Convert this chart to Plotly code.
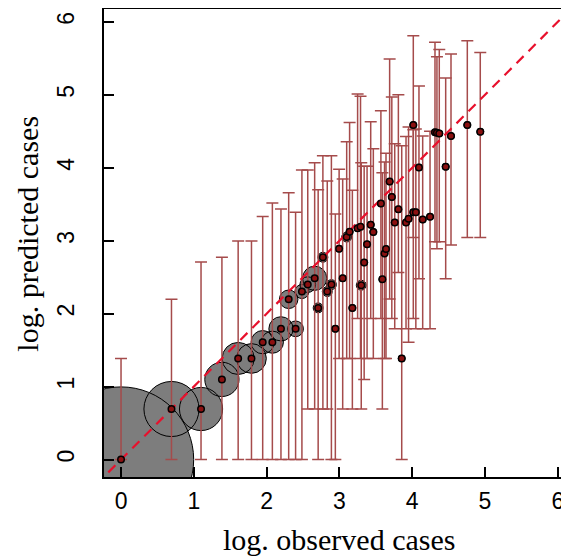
import numpy as np
import plotly.graph_objects as go

# log observed vs log predicted cases, with prediction intervals
obs_x = [0.000, 0.693, 1.099, 1.386, 1.609, 1.792, 1.946, 2.079, 2.197, 2.303,
         2.398, 2.485, 2.565, 2.660, 2.708, 2.773, 2.833, 2.890, 2.944, 2.996,
         3.045, 3.100, 3.140, 3.178, 3.250, 3.290, 3.300, 3.340, 3.380, 3.430,
         3.466, 3.570, 3.590, 3.620, 3.640, 3.690, 3.720, 3.760, 3.810, 3.856,
         3.915, 3.950, 4.015, 4.050, 4.015, 4.093, 4.144, 4.245, 4.313, 4.340,
         4.372, 4.460, 4.533, 4.757, 4.935]
pred_y = [0.000, 0.693, 0.693, 1.099, 1.386, 1.386, 1.609, 1.609, 1.792, 2.197,
          1.792, 2.303, 2.398, 2.485, 2.079, 2.773, 2.303, 2.398, 1.792, 2.890,
          2.485, 3.050, 3.122, 2.079, 3.170, 3.190, 2.390, 2.700, 2.950, 3.220,
          3.120, 3.510, 2.470, 2.825, 2.885, 3.810, 3.600, 3.250, 3.430, 1.386,
          3.250, 3.300, 3.390, 3.390, 4.586, 4.005, 3.290, 3.330, 4.486, 4.480,
          4.470, 4.014, 4.435, 4.586, 4.494]
upper = [1.386, 2.197, 2.708, 2.773, 2.996, 2.996, 3.332, 3.516, 3.434, 3.657,
         3.390, 3.970, 3.970, 4.070, 3.700, 4.165, 3.820, 4.165, 3.365, 3.980,
         3.845, 4.357, 4.620, 3.690, 5.010, 4.980, 4.070, 4.020, 4.020, 4.630,
         4.260, 4.780, 3.930, 4.080, 4.200, 5.490, 4.970, 4.330, 5.000, 4.300,
         4.430, 4.560, 4.520, 4.530, 5.810, 5.120, 4.435, 4.500, 5.720, 5.520,
         5.620, 5.230, 5.560, 5.740, 5.580]
lower = [0.000, 0.000, 0.000, 0.000, 0.000, 0.000, 0.000, 0.000, 0.000, 0.000,
         0.000, 0.000, 0.693, 0.693, 0.000, 0.693, 0.693, 0.000, 0.000, 1.386,
         0.693, 1.386, 1.386, 0.693, 1.934, 1.386, 0.693, 1.099, 1.386, 1.934,
         1.386, 1.934, 0.693, 1.386, 1.386, 2.200, 1.934, 1.792, 2.565, 0.000,
         1.792, 1.609, 1.934, 1.792, 3.045, 2.480, 1.792, 1.792, 2.985, 2.890,
         2.985, 2.480, 2.940, 3.045, 3.045]
freq = [431, 62, 38, 24, 21, 18, 11, 10, 12, 7,
        5, 4, 5, 12, 2, 2, 2, 2, 1, 1,
        1, 2, 1, 1, 1, 1, 2, 1, 1, 1,
        1, 1, 1, 1, 1, 1, 1, 1, 1, 1,
        1, 1, 1, 1, 1, 1, 1, 1, 1, 1,
        1, 1, 1, 1, 1]
ticks = [0, 1, 2, 3, 4, 5, 6]

y = np.array(pred_y)
err_plus = np.array(upper) - y
err_minus = y - np.array(lower)
bubble = 7 * np.sqrt(np.array(freq))

fig = go.Figure()

# bubbles: fill first, then the outlines so overlaps still show the rings
fig.add_trace(go.Scatter(x=obs_x, y=pred_y, mode='markers', hoverinfo='skip',
                         marker=dict(size=bubble, color='rgb(125,125,125)', opacity=1,
                                     line=dict(width=0))))
fig.add_trace(go.Scatter(x=obs_x, y=pred_y, mode='markers', hoverinfo='skip',
                         marker=dict(size=bubble, color='rgba(0,0,0,0)', opacity=1,
                                     line=dict(width=1, color='black'))))

# prediction intervals
fig.add_trace(go.Scatter(x=obs_x, y=pred_y, mode='markers',
                         marker=dict(size=1, opacity=0),
                         error_y=dict(type='data', symmetric=False,
                                      array=err_plus, arrayminus=err_minus,
                                      color='rgb(165,75,75)', thickness=1.5, width=6)))

# 1:1 line
fig.add_trace(go.Scatter(x=[-1, 7], y=[-1, 7], mode='lines',
                         line=dict(color='#E8102C', width=2.2, dash='10px,7px')))

fig.add_trace(go.Scatter(x=obs_x, y=pred_y, mode='markers',
                         marker=dict(size=6.5, color='#8B1010', opacity=1,
                                     line=dict(width=1.5, color='black'))))

# page body has an 8px margin, so the figure is drawn 8px smaller and shifted
fig.update_layout(
    width=561, height=552,
    margin=dict(l=96, r=0, t=1, b=83),
    plot_bgcolor='white', paper_bgcolor='white',
    showlegend=False,
    font=dict(family='Liberation Sans, Arial', color='black'),
)
fig.update_xaxes(range=[-0.234, 6.154], tickvals=ticks, ticks='inside', ticklen=10,
                 tickwidth=2, tickcolor='black', showline=True, linewidth=2,
                 linecolor='black', mirror=True, showgrid=False, zeroline=False,
                 tickfont=dict(size=23), ticklabelstandoff=2)
fig.update_yaxes(range=[-0.239, 6.176], tickvals=ticks, ticks='inside', ticklen=10,
                 tickwidth=2, tickcolor='black', showline=True, linewidth=2,
                 linecolor='black', showgrid=False, zeroline=False,
                 tickfont=dict(size=23), tickangle=-90, ticklabelstandoff=19)

fig.add_annotation(text='log. observed cases', xref='x', yref='paper', x=3.0, y=-0.1335,
                   xanchor='center', yanchor='middle', showarrow=False,
                   font=dict(family='Liberation Serif, Times New Roman', size=30))
fig.add_annotation(text='log. predicted cases', xref='paper', yref='y', x=-0.165, y=3.1,
                   xanchor='center', yanchor='middle', textangle=-90, showarrow=False,
                   font=dict(family='Liberation Serif, Times New Roman', size=30))

fig.write_html("out.html")
